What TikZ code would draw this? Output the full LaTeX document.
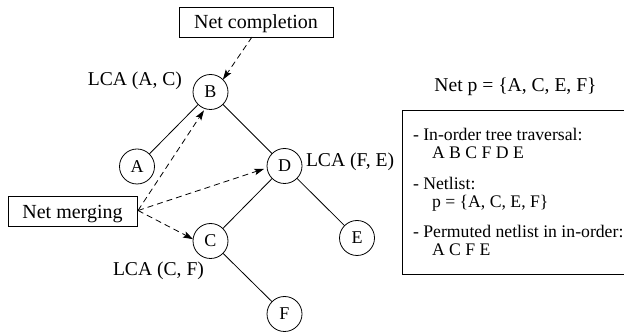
\documentclass[tikz,border=0pt]{standalone}
\usepackage{fontspec}
\setmainfont{Liberation Serif}
\usetikzlibrary{arrows.meta}
\begin{document}
\begin{tikzpicture}[x=1pt,y=-1pt,
  every node/.style={inner sep=0pt, outer sep=0pt},
  tnode/.style={draw, circle, minimum size=35pt, line width=0.8pt, font=\fontsize{18}{20}\selectfont},
  labelbox/.style={draw, line width=0.8pt, minimum height=30pt, text height=14pt, text depth=0pt, font=\fontsize{20}{24}\selectfont},
  lbl/.style={font=\fontsize{19.6}{24}\selectfont},
  boxtxt/.style={font=\fontsize{17.7}{20}\selectfont, anchor=base west},
  edge/.style={line width=0.8pt},
  dasharrow/.style={line width=0.8pt, dash pattern=on 6pt off 4pt, -{Stealth[length=10pt,width=6.5pt,inset=2pt]}}
]
\useasboundingbox (0,0) rectangle (624,336);
\fill[white] (0,0) rectangle (624,336);
\begin{scope}
\clip (0,0) rectangle (624,336);
% right info box (its right side runs off the picture)
\node[minimum width=300pt, minimum height=164pt] (info) at (552.5,192) {};
\draw[line width=0.8pt] (info.north east) -- (info.north west) -- (info.south west) -- (info.south east);
\end{scope}

% tree nodes
\node[tnode] (B) at (210.5,92) {B};
\node[tnode] (A) at (137,166.5) {A};
\node[tnode] (D) at (284.5,166) {D};
\node[tnode] (C) at (210.5,241) {C};
\node[tnode] (E) at (357,238) {E};
\node[tnode] (F) at (284.5,314) {F};

\draw[edge] (B) -- (A);
\draw[edge] (B) -- (D);
\draw[edge] (D) -- (C);
\draw[edge] (D) -- (E);
\draw[edge] (C) -- (F);

% label boxes
\node[labelbox, minimum width=154pt] (comp) at (256,22) {Net completion};
\node[labelbox, minimum width=129pt] (merge) at (72.5,211.5) {Net merging};

% LCA labels
\node[lbl, anchor=base east] (lac) at (182,86) {LCA (A, C)};
\node[lbl, anchor=base west] (lfe) at (306,166.5) {LCA (F, E)};
\node[lbl, anchor=base west] (lcf) at (113,276) {LCA (C, F)};

% dashed arrows
\draw[dasharrow] ([xshift=-4pt]comp.south) -- (B.45);
\coordinate (mstart) at ([xshift=1pt,yshift=1pt]merge.east);
\draw[dasharrow, shorten >=2pt] (mstart) -- (B.252);
\draw[dasharrow, shorten >=3pt] (mstart) -- (D.186);
\draw[dasharrow, shorten >=0pt] (mstart) -- (C.174);

% right info box text
\node[lbl, anchor=base] (title) at (515.5,92) {Net p = \{A, C, E, F\}};
\node[boxtxt] (l1) at (413,141) {- In-order tree traversal:};
\node[boxtxt] (l2) at (432,159) {A B C F D E};
\node[boxtxt] (l3) at (413,190) {- Netlist:};
\node[boxtxt] (l4) at (432,208) {p = \{A, C, E, F\}};
\node[boxtxt] (l5) at (413,238) {- Permuted netlist in in-order:};
\node[boxtxt] (l6) at (432,256) {A C F E};
\end{tikzpicture}
\end{document}
